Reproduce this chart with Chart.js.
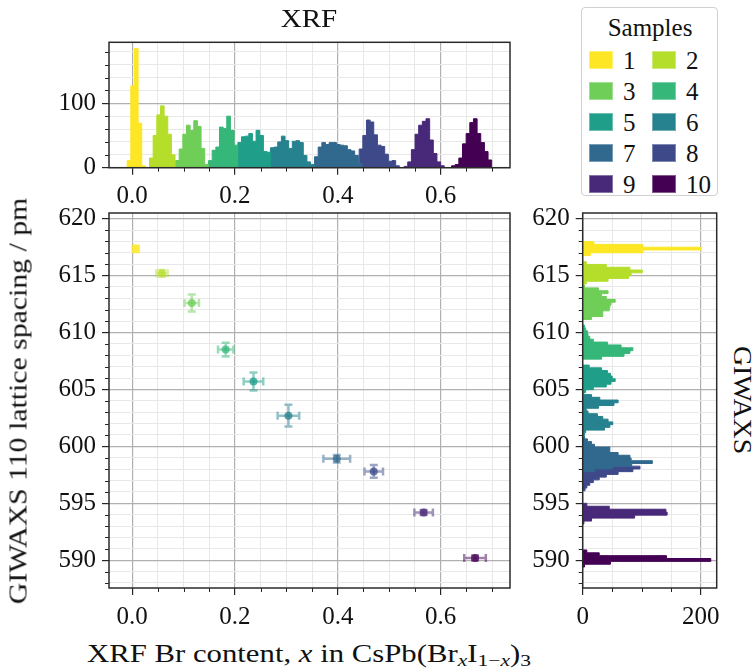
<!DOCTYPE html>
<html>
<head>
<meta charset="utf-8">
<script src="https://cdn.jsdelivr.net/npm/chart.js@4"></script>
<style>
  body { margin: 0; background: #fff; }
  #fig { position: relative; width: 753px; height: 671px; overflow: hidden;
         font-family: 'Liberation Serif', serif; color: #111; }
  #fig canvas { position: absolute; }
  .lbl { position: absolute; white-space: nowrap; font-size: 25px; line-height: 1; }
  .lbl sub { font-size: 70%; vertical-align: -0.25em; line-height: 0; }
  #legend { position: absolute; left: 581px; top: 7px; width: 137px; height: 189px;
            box-sizing: border-box; border: 1.5px solid #d0d0d0; border-radius: 4px; }
  #legend div { position: absolute; }
</style>
</head>
<body>
<div id="fig">
  <canvas id="xrfHist" width="515" height="175" style="left:0;top:30px"></canvas>
  <canvas id="scatter" width="515" height="425" style="left:0;top:205px"></canvas>
  <canvas id="giwaxsHist" width="200" height="425" style="left:520px;top:205px"></canvas>

  <div class="lbl" id="topTitle" style="left:309px;top:18px" data-w="57" data-rot="0">XRF</div>
  <div class="lbl" id="xTitle" style="left:309px;top:653px" data-w="444" data-rot="0">XRF Br content, <i>x</i> in CsPb(Br<sub><i>x</i></sub>I<sub>1−<i>x</i></sub>)<sub>3</sub></div>
  <div class="lbl" id="yTitle" style="left:18px;top:401px" data-w="406" data-rot="-90">GIWAXS 110 lattice spacing / pm</div>
  <div class="lbl" id="rightTitle" style="left:742px;top:400px" data-w="108" data-rot="90">GIWAXS</div>
  <div id="legend"></div>
</div>

<script>
// samples and colours (viridis, reversed)
const samples = ["1", "2", "3", "4", "5", "6", "7", "8", "9", "10"];
const colors = ["#fde725", "#b5de2b", "#6ece58", "#35b779", "#1f9e89",
                "#26828e", "#31688e", "#3e4989", "#482878", "#440154"];

// mean values with error bars (main panel)
const xrfMean = [0.007, 0.058, 0.116, 0.182, 0.236, 0.304, 0.398, 0.470, 0.567, 0.667];
const xrfErr = [0.006, 0.011, 0.014, 0.015, 0.019, 0.021, 0.026, 0.018, 0.018, 0.021];
const giwaxsMean = [617.35, 615.2, 612.6, 608.5, 605.7, 602.7, 598.92, 597.8, 594.2, 590.2];
const giwaxsErr = [0.3, 0.3, 0.75, 0.6, 0.8, 0.95, 0.33, 0.56, 0.22, 0.22];

// XRF histograms (top panel): first bin edge, bin width, counts
const xrfStart = [-0.0097, 0.0338, 0.0844, 0.1486, 0.2056, 0.2690, 0.3548, 0.4416, 0.5290, 0.6213];
const xrfBinWidth = 0.0071;
const xrfCounts1 = [11, 127, 185, 69, 3];
const xrfCounts2 = [15, 50, 82, 96, 80, 52, 20];
const xrfCounts3 = [11, 29, 52, 66, 58, 73, 64, 30, 5];
const xrfCounts4 = [11, 27, 32, 63, 61, 80, 58, 35];
const xrfCounts5 = [39, 48, 49, 53, 41, 58, 50, 25, 24];
const xrfCounts6 = [31, 32, 40, 49, 42, 30, 41, 42, 39, 19, 9, 5];
const xrfCounts7 = [17, 32, 39, 36, 39, 39, 36, 35, 34, 28, 26, 19, 7];
const xrfCounts8 = [29, 50, 74, 71, 51, 35, 33, 21, 10, 11, 3];
const xrfCounts9 = [2, 9, 28, 52, 66, 72, 76, 43, 22, 9, 3];
const xrfCounts10 = [3, 5, 15, 37, 53, 70, 76, 53, 39, 25, 12];

// GIWAXS histograms (right panel): lowest bin edge, bin width, counts (bottom to top)
const giwaxsStart = [616.76, 614.26, 611.15, 607.66, 604.50, 600.95, 597.78, 596.10, 593.18, 589.40];
const giwaxsBinWidth = [0.246, 0.246, 0.252, 0.25, 0.24, 0.24, 0.24, 0.24, 0.26, 0.25];
const giwaxsCounts1 = [13, 102, 201, 102, 19];
const giwaxsCounts2 = [6, 43, 78, 82, 101, 80, 40, 6];
const giwaxsCounts3 = [15, 34, 34, 45, 46, 48, 55, 40, 32, 43, 27, 3];
const giwaxsCounts4 = [32, 70, 80, 85, 65, 42, 18, 12, 9, 8, 5, 3];
const giwaxsCounts5 = [2, 5, 18, 40, 48, 55, 50, 47, 42, 32, 11];
const giwaxsCounts6 = [3, 5, 37, 46, 51, 43, 34, 25, 9, 6, 27, 53, 60, 29, 15];
const giwaxsCounts7 = [20, 50, 83, 118, 82, 80, 60, 46, 46, 20, 15, 8, 3];
const giwaxsCounts8 = [4, 7, 12, 18, 28, 40, 60, 85, 97];
const giwaxsCounts9 = [2, 15, 88, 143, 141, 45, 7];
const giwaxsCounts10 = [3, 47, 217, 142, 28, 7];

// axis ranges and tick steps
const xRange = [-0.045, 0.735];
const yRange = [587.56, 620.5];
const xrfCountMax = 194.7;
const giwaxsCountMax = 227;
const xTicks = { minor: 0.05, major: 0.2 };
const yTicks = { minor: 1, major: 5 };
const xrfCountTicks = { minor: 20, major: 100 };
const giwaxsCountTicks = { minor: 50, major: 200 };

const xrfCounts = [xrfCounts1, xrfCounts2, xrfCounts3, xrfCounts4, xrfCounts5,
                   xrfCounts6, xrfCounts7, xrfCounts8, xrfCounts9, xrfCounts10];
const giwaxsCounts = [giwaxsCounts1, giwaxsCounts2, giwaxsCounts3, giwaxsCounts4, giwaxsCounts5,
                      giwaxsCounts6, giwaxsCounts7, giwaxsCounts8, giwaxsCounts9, giwaxsCounts10];

const FONT = "'Liberation Serif', serif";

function rgba(hex, a) {
    const n = parseInt(hex.slice(1), 16);
    return `rgba(${n >> 16}, ${(n >> 8) & 255}, ${n & 255}, ${a})`;
}

function isMajor(v, step) {
    const r = v / step;
    return Math.abs(r - Math.round(r)) < 1e-6;
}

function stepTicks(min, max, step) {
    const out = [];
    for (let k = Math.ceil(min / step - 1e-9); k * step <= max + 1e-9; k++) {
        out.push({ value: +(k * step).toFixed(6) });
    }
    return out;
}

// one linear axis: minor ticks carry the light grid, major ticks the labels
function axis(range, steps, fmt, pos, size) {
    const horizontal = pos === "bottom";
    return {
        type: "linear",
        position: pos,
        min: range[0],
        max: range[1],
        afterBuildTicks: s => { s.ticks = stepTicks(range[0], range[1], steps.minor); },
        afterFit: s => {
            if (horizontal) s.height = size; else s.width = size;
            s.paddingTop = s.paddingBottom = s.paddingLeft = s.paddingRight = 0;
        },
        ticks: {
            autoSkip: false,
            maxRotation: 0,
            padding: horizontal ? 7 : 6,
            color: "#111",
            font: { family: FONT, size: 25 },
            callback: v => isMajor(v, steps.major) ? fmt(v) : ""
        },
        grid: {
            color: c => c.tick && isMajor(c.tick.value, steps.major) ? "#b0b0b0" : "#e8e8e8",
            lineWidth: c => c.tick && isMajor(c.tick.value, steps.major) ? 1.2 : 1,
            tickLength: 7,
            tickWidth: 1.2,
            tickColor: c => c.tick && isMajor(c.tick.value, steps.major) ? "#262626" : "rgba(0,0,0,0)"
        },
        border: { display: false }
    };
}

// frame on all four sides plus short minor tick marks
function framePlugin(xSteps, ySteps) {
    return {
        id: "frame",
        afterDraw(chart) {
            const { ctx, chartArea: a, scales } = chart;
            ctx.save();
            ctx.strokeStyle = "#262626";
            ctx.lineWidth = 1;
            ctx.beginPath();
            scales.x.ticks.forEach(t => {
                if (isMajor(t.value, xSteps.major)) return;
                const px = Math.round(scales.x.getPixelForValue(t.value)) + 0.5;
                ctx.moveTo(px, a.bottom);
                ctx.lineTo(px, a.bottom + 4);
            });
            scales.y.ticks.forEach(t => {
                if (isMajor(t.value, ySteps.major)) return;
                const py = Math.round(scales.y.getPixelForValue(t.value)) + 0.5;
                ctx.moveTo(a.left - 4, py);
                ctx.lineTo(a.left, py);
            });
            ctx.stroke();
            ctx.lineWidth = 1.5;
            ctx.strokeStyle = "#2b2b2b";
            ctx.strokeRect(a.left, a.top, a.right - a.left, a.bottom - a.top);
            ctx.restore();
        }
    };
}

const errorBarPlugin = {
    id: "errorBars",
    beforeDatasetsDraw(chart) {
        const { ctx, scales: { x, y } } = chart;
        const cap = 4;
        ctx.save();
        ctx.lineWidth = 2.5;
        samples.forEach((s, i) => {
            const cx = x.getPixelForValue(xrfMean[i]);
            const cy = y.getPixelForValue(giwaxsMean[i]);
            const x0 = x.getPixelForValue(xrfMean[i] - xrfErr[i]);
            const x1 = x.getPixelForValue(xrfMean[i] + xrfErr[i]);
            const y0 = y.getPixelForValue(giwaxsMean[i] - giwaxsErr[i]);
            const y1 = y.getPixelForValue(giwaxsMean[i] + giwaxsErr[i]);
            ctx.strokeStyle = rgba(colors[i], 0.5);
            ctx.beginPath();
            ctx.moveTo(x0, cy); ctx.lineTo(x1, cy);
            ctx.moveTo(x0, cy - cap); ctx.lineTo(x0, cy + cap);
            ctx.moveTo(x1, cy - cap); ctx.lineTo(x1, cy + cap);
            ctx.stroke();
            ctx.beginPath();
            ctx.moveTo(cx, y0); ctx.lineTo(cx, y1);
            ctx.moveTo(cx - cap, y0); ctx.lineTo(cx + cap, y0);
            ctx.moveTo(cx - cap, y1); ctx.lineTo(cx + cap, y1);
            ctx.stroke();
        });
        ctx.restore();
    }
};

const common = {
    responsive: false,
    animation: false,
    events: [],
    plugins: { legend: { display: false }, tooltip: { enabled: false } }
};

// top: XRF histograms as filled step lines
new Chart(document.getElementById("xrfHist"), {
    type: "line",
    data: {
        datasets: samples.map((s, i) => {
            const pts = [{ x: xrfStart[i], y: 0 }];
            xrfCounts[i].forEach((c, k) => pts.push({ x: xrfStart[i] + k * xrfBinWidth, y: c }));
            pts.push({ x: xrfStart[i] + xrfCounts[i].length * xrfBinWidth, y: 0 });
            return {
                label: s, data: pts, stepped: "before", fill: "origin",
                backgroundColor: colors[i], borderColor: colors[i], borderWidth: 1,
                pointRadius: 0
            };
        })
    },
    options: {
        ...common,
        layout: { padding: { top: 12.3, right: 5, left: 0, bottom: 0 } },
        scales: {
            x: axis(xRange, xTicks, v => v.toFixed(1), "bottom", 37.3),
            y: axis([0, xrfCountMax], xrfCountTicks, v => String(v), "left", 109)
        }
    },
    plugins: [framePlugin(xTicks, xrfCountTicks)]
});

// main: mean values with error bars
new Chart(document.getElementById("scatter"), {
    type: "scatter",
    data: {
        datasets: samples.map((s, i) => ({
            label: s,
            data: [{ x: xrfMean[i], y: giwaxsMean[i] }],
            pointRadius: 4,
            pointBorderWidth: 0,
            pointBackgroundColor: rgba(colors[i], 0.75)
        }))
    },
    options: {
        ...common,
        layout: { padding: { top: 8, right: 5, left: 0, bottom: 0 } },
        scales: {
            x: axis(xRange, xTicks, v => v.toFixed(1), "bottom", 42),
            y: axis(yRange, yTicks, v => String(v), "left", 109)
        }
    },
    plugins: [errorBarPlugin, framePlugin(xTicks, yTicks)]
});

// right: GIWAXS histograms, horizontal filled steps
new Chart(document.getElementById("giwaxsHist"), {
    type: "line",
    data: {
        datasets: samples.map((s, i) => {
            const w = giwaxsBinWidth[i];
            const pts = [{ x: 0, y: giwaxsStart[i] }];
            giwaxsCounts[i].forEach((c, k) => pts.push({ x: c, y: giwaxsStart[i] + k * w }));
            pts.push({ x: 0, y: giwaxsStart[i] + giwaxsCounts[i].length * w });
            return {
                label: s, data: pts, stepped: "after", fill: "origin",
                backgroundColor: colors[i], borderColor: colors[i], borderWidth: 1,
                pointRadius: 0
            };
        })
    },
    options: {
        ...common,
        indexAxis: "y",
        layout: { padding: { top: 8, right: 3.3, left: 0, bottom: 0 } },
        scales: {
            x: axis([0, giwaxsCountMax], giwaxsCountTicks, v => String(v), "bottom", 42),
            y: axis(yRange, yTicks, v => String(v), "left", 62.7)
        }
    },
    plugins: [framePlugin(giwaxsCountTicks, yTicks)]
});

// axis titles: stretch Liberation Serif to the wider Computer Modern widths
document.querySelectorAll(".lbl[data-w]").forEach(el => {
    const sx = +el.dataset.w / el.offsetWidth;
    el.style.transform = `translate(-50%,-50%) rotate(${el.dataset.rot}deg) scale(${sx},1)`;
});

// legend box
const legend = document.getElementById("legend");
legend.innerHTML = '<div class="lbl" style="left:68px;top:19px;transform:translate(-50%,-50%)">Samples</div>';
samples.forEach((s, i) => {
    const row = Math.floor(i / 2), col = i % 2;
    const cy = 51.5 + row * 31;
    const left = col === 0 ? 7 : 70;
    legend.innerHTML +=
        `<div style="left:${left}px;top:${cy - 9}px;width:24px;height:18px;background:${colors[i]};` +
        `box-shadow:inset 0 0 0 1px rgba(255,255,255,0.35)"></div>` +
        `<div class="lbl" style="left:${left + 34}px;top:${cy}px;transform:translateY(-50%)">${s}</div>`;
});
</script>
</body>
</html>
